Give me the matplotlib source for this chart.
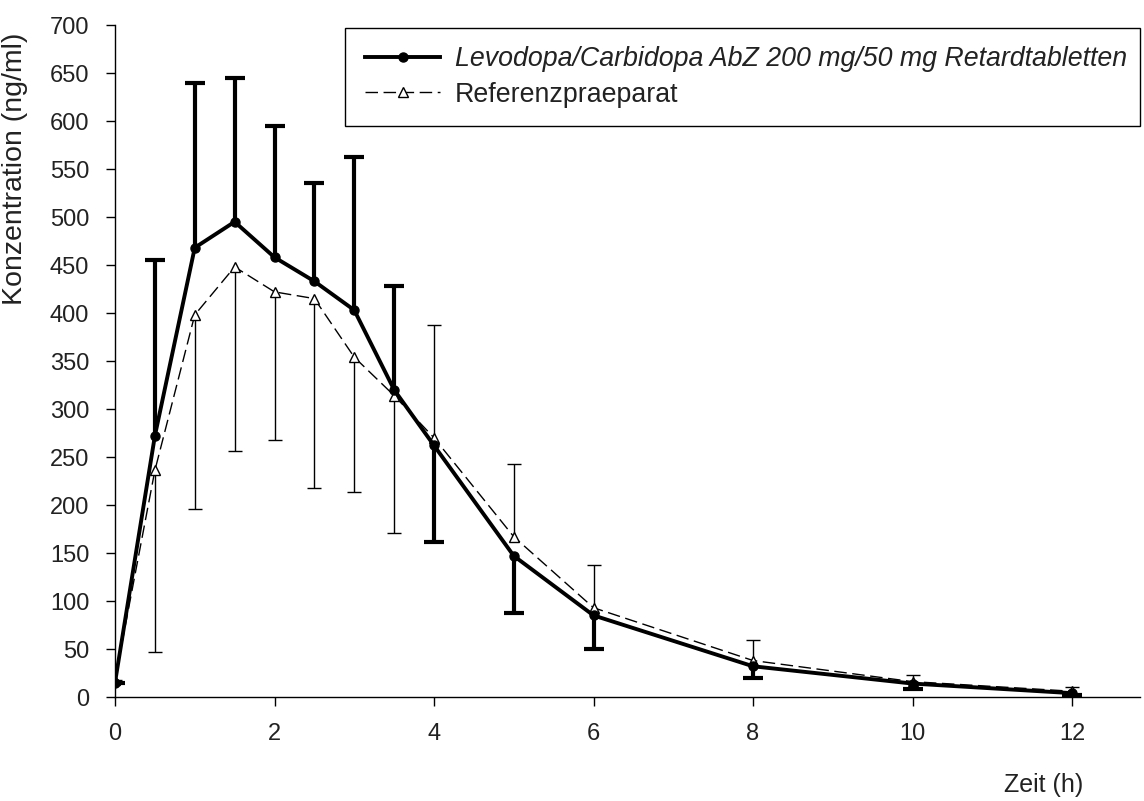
import numpy as np
import matplotlib
matplotlib.use('Agg')
import matplotlib.pyplot as plt
from matplotlib.patches import Rectangle

plt.rcParams['font.family'] = ['Liberation Sans', 'DejaVu Sans']

# Zeit (h)
zeit = [0, 0.5, 1, 1.5, 2, 2.5, 3, 3.5, 4, 5, 6, 8, 10, 12]

# Levodopa/Carbidopa AbZ (test) mean and SD
test_mean = [15, 272, 468, 495, 458, 433, 403, 320, 262, 147, 85, 32, 14, 4]
test_sd = [0, 183, 172, 150, 137, 102, 160, 108, 101, 59, 35, 12, 6, 2]

# Referenzpraeparat mean and SD
ref_mean = [18, 236, 398, 448, 422, 415, 354, 314, 270, 167, 93, 38, 16, 6]
ref_sd = [0, 189, 202, 192, 154, 197, 140, 143, 117, 76, 45, 21, 7, 4]

labels = ['Levodopa/Carbidopa AbZ 200 mg/50 mg Retardtabletten', 'Referenzpraeparat']

zeit = np.array(zeit)
test_mean = np.array(test_mean)
test_sd = np.array(test_sd)
ref_mean = np.array(ref_mean)
ref_sd = np.array(ref_sd)

# the SD bars point away from the other curve
sign = np.where(test_mean >= ref_mean, 1, -1)
test_end = test_mean + sign * test_sd
ref_end = ref_mean - sign * ref_sd

fig = plt.figure(figsize=(11.44, 8.01), dpi=100)
ax = fig.add_axes([115 / 1144, 104 / 801, 1025 / 1144, 672 / 801])

# reference: thin bars, dashed line, open triangles
ax.vlines(zeit, ref_mean, ref_end, color='black', lw=1.0, zorder=2)
ax.plot(zeit, ref_end, marker='_', markersize=10, mew=1.0, color='black',
        linestyle='none', zorder=2)
ref_line, = ax.plot(zeit, ref_mean, color='black', lw=1.0, dashes=(9, 4),
                    marker='^', markersize=7, markerfacecolor='white',
                    markeredgecolor='black', markeredgewidth=1.0, zorder=3)

# test: thick bars, solid line, filled circles
ax.vlines(zeit, test_mean, test_end, color='black', lw=3.0, zorder=4)
ax.plot(zeit, test_end, marker='_', markersize=15, mew=3.0, color='black',
        linestyle='none', zorder=4)
test_line, = ax.plot(zeit, test_mean, color='black', lw=2.8, marker='o',
                     markersize=6.5, zorder=5)

ax.set_xlim(0, 1025 / 79.75)
ax.set_ylim(0, 700)
ax.set_xticks(np.arange(0, 13, 2))
ax.set_yticks(np.arange(0, 701, 50))
ax.spines['top'].set_visible(False)
ax.spines['right'].set_visible(False)
ax.spines['left'].set_linewidth(1.0)
ax.spines['bottom'].set_linewidth(1.0)
ax.tick_params(direction='out', length=6.5, width=1.0, pad=12,
               labelsize=17, labelcolor='#222222')

ax.set_ylabel('Konzentration (ng/ml)', fontsize=20.5, color='#222222')
ax.yaxis.set_label_coords(-0.085, 0.786)
ax.set_xlabel('Zeit (h)', fontsize=18, color='#222222')
ax.xaxis.set_label_coords(0.906, -0.113)

# legend box
box = Rectangle((345 / 1144, (801 - 126) / 801), 795 / 1144, 98 / 801,
                transform=fig.transFigure, facecolor='white',
                edgecolor='black', lw=1.0, zorder=6, clip_on=False)
ax.add_patch(box)
leg = ax.legend([test_line, ref_line], labels, loc='center left',
                bbox_to_anchor=(365 / 1144, (801 - 77) / 801),
                bbox_transform=fig.transFigure, frameon=False,
                fontsize=19.3, handlelength=2.8, handletextpad=0.56,
                borderpad=0, labelspacing=0.35, borderaxespad=0)
leg.set_zorder(7)
for t in leg.get_texts():
    t.set_color('#222222')
leg.get_texts()[0].set_fontstyle('italic')

fig.savefig('out.png', dpi=100)
